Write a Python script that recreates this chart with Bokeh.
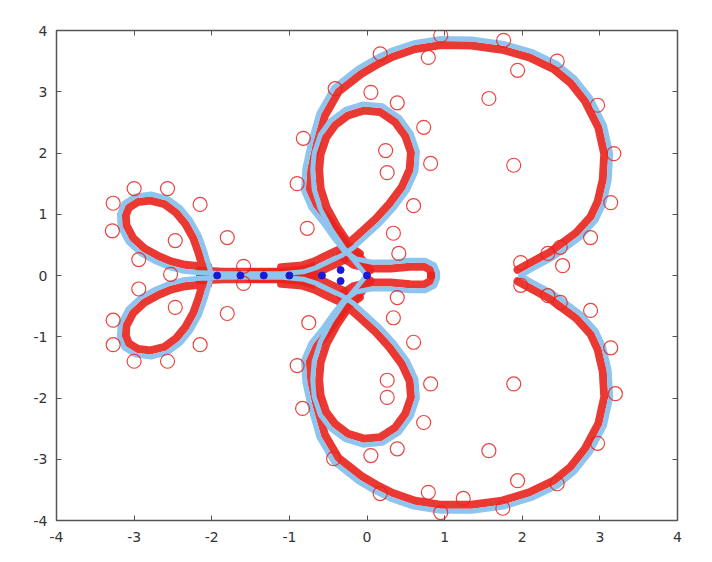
import numpy as np
from bokeh.plotting import figure
from bokeh.models import Range1d, LinearAxis, FixedTicker, CustomJSTickFormatter
from bokeh.embed import file_html
from bokeh.resources import INLINE

# ---------------- data ----------------
TICKS = [-4, -3, -2, -1, 0, 1, 2, 3, 4]

# big outer loop + right finger, upper half (cusp -> top -> left -> finger tip)
OUTER_UP_X = [1.98, 2.15, 2.40, 2.75, 2.95, 3.05, 3.12, 3.14, 3.06, 2.88, 2.68, 2.45, 2.12, 1.76, 1.35,
              0.95, 0.60, 0.30, 0.08, -0.12, -0.43, -0.62, -0.73, -0.80, -0.82, -0.72, -0.56, -0.42,
              -0.30, -0.14, 0.05, 0.30, 0.55, 0.75, 0.87, 0.91, 0.91]
OUTER_UP_Y = [0.00, 0.12, 0.29, 0.62, 0.90, 1.17, 1.55, 1.99, 2.45, 2.90, 3.22, 3.46, 3.66, 3.79, 3.86,
              3.87, 3.80, 3.67, 3.53, 3.38, 3.07, 2.65, 2.16, 1.75, 1.39, 1.10, 0.85, 0.60,
              0.41, 0.27, 0.22, 0.22, 0.25, 0.25, 0.17, 0.05, 0.00]
# lower half
OUTER_LO_X = [1.98, 2.15, 2.40, 2.75, 2.95, 3.05, 3.12, 3.14, 3.06, 2.88, 2.68, 2.45, 2.12, 1.76, 1.35,
              0.95, 0.60, 0.30, 0.08, -0.12, -0.43, -0.62, -0.73, -0.80, -0.82, -0.72, -0.56, -0.42,
              -0.30, -0.14, 0.05, 0.30, 0.55, 0.75, 0.87, 0.91, 0.91]
OUTER_LO_Y = [0.00, -0.12, -0.29, -0.62, -0.90, -1.17, -1.55, -1.99, -2.45, -2.88, -3.20, -3.44, -3.64,
              -3.78, -3.85, -3.85, -3.78, -3.65, -3.51, -3.36, -3.05, -2.64, -2.15, -1.75, -1.39, -1.10,
              -0.85, -0.60, -0.41, -0.27, -0.22, -0.22, -0.25, -0.25, -0.17, -0.05, 0.00]

# inner loop + channel + left lobe, upper half
INNER_UP_X = [-0.02, -0.15, -0.30, -0.46, -0.60, -0.68, -0.70, -0.68, -0.60, -0.47, -0.28, -0.05, 0.20,
              0.42, 0.57, 0.65, 0.63, 0.52, 0.35, 0.17, -0.02, -0.17, -0.32, -0.47, -0.65, -0.82, -1.10,
              -1.50, -1.85, -2.05, -2.20, -2.36, -2.55, -2.72, -2.92, -3.08, -3.18, -3.19, -3.13, -2.98,
              -2.78, -2.57, -2.40, -2.27, -2.16, -2.09, -2.04, -2.01, -2.00]
INNER_UP_Y = [0.02, 0.22, 0.45, 0.75, 1.08, 1.40, 1.72, 2.00, 2.30, 2.53, 2.71, 2.80, 2.77,
              2.58, 2.32, 2.02, 1.70, 1.39, 1.10, 0.85, 0.63, 0.46, 0.33, 0.24, 0.13, 0.06, 0.03,
              0.03, 0.03, 0.04, 0.05, 0.07, 0.13, 0.22, 0.36, 0.55, 0.79, 1.00, 1.18, 1.30,
              1.33, 1.26, 1.10, 0.90, 0.65, 0.40, 0.18, 0.04, 0.00]
INNER_LO_X = [-0.02, -0.15, -0.30, -0.46, -0.60, -0.68, -0.70, -0.68, -0.60, -0.47, -0.28, -0.05, 0.20,
              0.42, 0.57, 0.65, 0.63, 0.52, 0.35, 0.17, -0.02, -0.17, -0.32, -0.47, -0.65, -0.82, -1.10,
              -1.50, -1.85, -2.05, -2.20, -2.36, -2.55, -2.72, -2.92, -3.08, -3.18, -3.19, -3.13, -2.98,
              -2.78, -2.57, -2.40, -2.27, -2.16, -2.09, -2.04, -2.01, -2.00]
INNER_LO_Y = [-0.02, -0.22, -0.45, -0.75, -1.08, -1.40, -1.70, -1.98, -2.28, -2.50, -2.68, -2.77, -2.74,
              -2.56, -2.30, -2.00, -1.69, -1.39, -1.10, -0.85, -0.63, -0.46, -0.33, -0.24, -0.13, -0.06,
              -0.03, -0.03, -0.03, -0.04, -0.05, -0.07, -0.13, -0.22, -0.36, -0.55, -0.79, -1.00, -1.18,
              -1.30, -1.33, -1.26, -1.10, -0.90, -0.65, -0.40, -0.18, -0.04, 0.00]

# isolated red open circles
CIRC_X = [-3.27, -3.00, -2.57, -2.15, -3.28, -1.80, -2.94, -2.47, -2.53, -2.94, -1.59, -1.59, -1.80,
          -2.47, -3.27, -3.27, -3.00, -2.57, -2.15,
          0.95, 1.76, 2.45, 1.94, 0.79, 0.17, -0.41, 0.05, 0.39, 1.57, -0.82, 0.73, 0.24, 0.26, 0.82,
          1.89, -0.90, 2.97, 3.18, -0.77, 0.60, 0.34, 0.41,
          0.39, 0.34, -0.75, 0.60, -0.83, 0.26, 0.26, 0.82, 1.89, 0.73, 1.57, 0.39, 0.05, -0.43, 0.17,
          0.79, 0.95, 1.24, 1.75, 1.94, 2.45, 2.97, 3.20, -0.90,
          1.98, 1.98, 2.33, 2.49, 2.52, 2.33, 2.49, 2.88, 2.88, 3.14, 3.14]
CIRC_Y = [1.18, 1.42, 1.42, 1.16, 0.73, 0.62, 0.26, 0.57, 0.02, -0.22, 0.15, -0.13, -0.62,
          -0.52, -0.73, -1.13, -1.40, -1.40, -1.13,
          3.92, 3.84, 3.50, 3.35, 3.56, 3.62, 3.05, 2.99, 2.82, 2.89, 2.24, 2.42, 2.04, 1.68, 1.83,
          1.80, 1.50, 2.78, 1.99, 0.77, 1.14, 0.69, 0.36,
          -0.36, -0.69, -0.77, -1.09, -2.17, -1.99, -1.71, -1.77, -1.77, -2.40, -2.86, -2.83, -2.94,
          -2.99, -3.56, -3.54, -3.87, -3.64, -3.80, -3.35, -3.40, -2.74, -1.93, -1.47,
          0.21, -0.16, 0.36, 0.46, 0.16, -0.33, -0.44, 0.62, -0.57, 1.19, -1.18]

# blue dots on the real axis
DOT_X = [-1.93, -1.63, -1.33, -1.00, -0.58, -0.34, -0.34, 0.00]
DOT_Y = [0.00, 0.00, 0.00, 0.00, 0.00, 0.09, -0.09, 0.00]

# ---------------- styling / layout ----------------
BLUE = "#8ec4ee"
RED = "#e8231d"
DOT = "#1a1ad6"
FRAME_W, FRAME_H = 621, 490
SX = FRAME_W / 8.0
SY = FRAME_H / 8.0

p = figure(width=704, height=554, output_backend="svg", toolbar_location=None,
           x_range=Range1d(-4, 4), y_range=Range1d(-4, 4),
           min_border_left=56, min_border_right=27, min_border_top=30, min_border_bottom=34,
           background_fill_color="white", border_fill_color="white")
p.grid.visible = False
p.outline_line_color = "#555555"
p.outline_line_width = 1.5

int_fmt = CustomJSTickFormatter(code="return tick.toFixed(0)")
for ax in (p.xaxis[0], p.yaxis[0]):
    ax.ticker = FixedTicker(ticks=TICKS)
    ax.formatter = int_fmt
    ax.axis_line_color = None
    ax.major_tick_in = 5
    ax.major_tick_out = 0
    ax.minor_tick_line_color = None
    ax.major_tick_line_color = "#555555"
    ax.major_label_text_font = "DejaVu Sans"
    ax.major_label_text_font_size = "14px"
    ax.major_label_text_color = "#333333"
p.yaxis[0].major_label_standoff = 9
p.xaxis[0].major_label_standoff = 11

blank = CustomJSTickFormatter(code="return ''")
for side in ("above", "right"):
    ax = LinearAxis(ticker=FixedTicker(ticks=TICKS), formatter=blank, axis_line_color=None,
                    major_tick_in=5, major_tick_out=0, minor_tick_line_color=None,
                    major_tick_line_color="#555555", major_label_standoff=0,
                    major_label_text_font_size="1px")
    p.add_layout(ax, side)


def offset_path(xs, ys, side, d):
    X = np.asarray(xs, dtype=float) * SX
    Y = np.asarray(ys, dtype=float) * SY
    tx = np.gradient(X)
    ty = np.gradient(Y)
    n = np.hypot(tx, ty)
    n[n == 0] = 1.0
    nx, ny = -ty / n, tx / n
    return (X + side * d * nx) / SX, (Y + side * d * ny) / SY


D = 6.5
RW = 8
red_paths = [
    offset_path(OUTER_UP_X[:30], OUTER_UP_Y[:30], +1, D),
    offset_path(OUTER_UP_X[28:], OUTER_UP_Y[28:], -1, D),
    offset_path(OUTER_LO_X[:30], OUTER_LO_Y[:30], -1, D),
    offset_path(OUTER_LO_X[28:], OUTER_LO_Y[28:], +1, D),
    offset_path(INNER_UP_X[:27], INNER_UP_Y[:27], -1, D),
    offset_path(INNER_UP_X[29:], INNER_UP_Y[29:], -1, D),
    offset_path(INNER_LO_X[:27], INNER_LO_Y[:27], +1, D),
    offset_path(INNER_LO_X[29:], INNER_LO_Y[29:], +1, D),
    # red filling the wedge between the two channel arms
    offset_path(INNER_UP_X[22:28], INNER_UP_Y[22:28], +1, 5.0),
    offset_path(INNER_LO_X[22:28], INNER_LO_Y[22:28], -1, 5.0),
]
for rx, ry in red_paths:
    p.line(list(rx), list(ry), line_color=RED, line_width=RW, line_alpha=0.9,
           line_join="round", line_cap="round")
# channel: red rim on both sides
for cx, cy in ((INNER_UP_X[24:31], INNER_UP_Y[24:31]), (INNER_LO_X[24:31], INNER_LO_Y[24:31])):
    p.line(cx, cy, line_color=RED, line_width=12, line_alpha=0.9, line_join="round")

for bx, by in ((OUTER_UP_X, OUTER_UP_Y), (OUTER_LO_X, OUTER_LO_Y),
               (INNER_UP_X, INNER_UP_Y), (INNER_LO_X, INNER_LO_Y)):
    p.line(bx, by, line_color=BLUE, line_width=5, line_join="round", line_cap="round")

p.scatter(CIRC_X, CIRC_Y, marker="circle", size=14, fill_color=None,
          line_color=RED, line_width=1.2, line_alpha=0.85)
p.scatter(DOT_X, DOT_Y, marker="circle", size=7, fill_color=DOT, line_color=DOT)

open("out.html", "w").write(file_html(p, INLINE))
